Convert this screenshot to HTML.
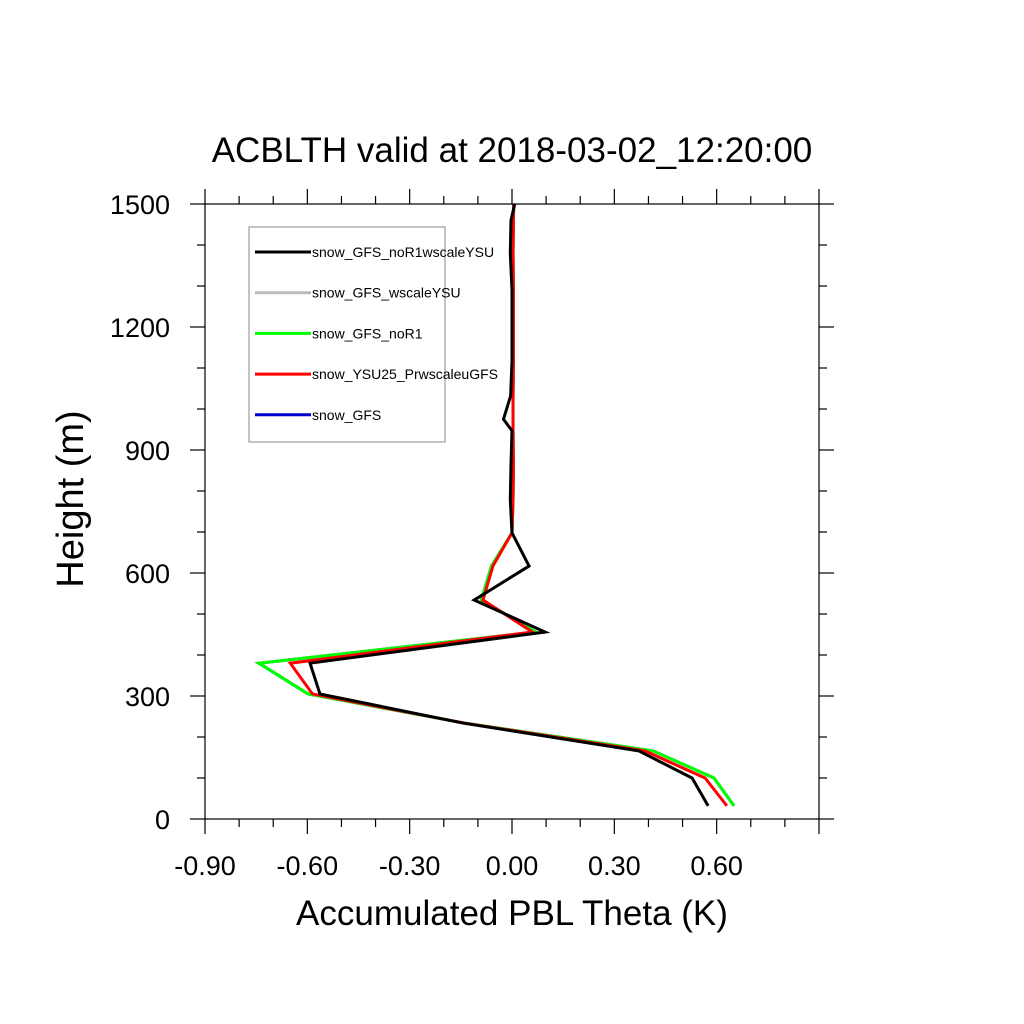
<!DOCTYPE html>
<html><head><meta charset="utf-8"><style>
body{margin:0;background:#fff}
svg{display:block;font-family:"Liberation Sans",sans-serif}
</style></head><body>
<svg id="chart" width="1024" height="1024" xmlns="http://www.w3.org/2000/svg">
<rect width="1024" height="1024" fill="#fff"/>
<text x="512" y="162" font-size="35" text-anchor="middle">ACBLTH valid at 2018-03-02_12:20:00</text>
<g id="ticks"></g>
<g id="series"></g>
<rect x="205" y="204" width="614" height="615" fill="none" stroke="#000" stroke-width="1.2"/>
<text x="512" y="925" font-size="35" text-anchor="middle">Accumulated PBL Theta (K)</text>
<text transform="translate(83,499) rotate(-90)" font-size="38" text-anchor="middle">Height (m)</text>
<g id="legend">
<rect x="249" y="227" width="196" height="215" fill="#fff" stroke="#888" stroke-width="1"/>
</g>
</svg>
<script>
const heights=[32,100,166,234,305,380,456,534,617,698,780,863,947,975,1032,1117,1204,1291,1379,1460,1500];
const blackVals=[0.575,0.528,0.372,-0.144,-0.563,-0.592,0.097,-0.111,0.050,0.0,-0.005,-0.003,0.0,-0.025,-0.004,0.0,0.0,0.0,-0.005,-0.003,0.008];
const redVals=[0.63,0.566,0.39,-0.14,-0.585,-0.65,0.06,-0.085,-0.056,0.0,0.003,0.004,0.003,0.003,0.003,0.004,0.004,0.004,0.003,0.004,0.005];
const greenVals=[0.651,0.592,0.414,-0.14,-0.598,-0.742,0.07,-0.09,-0.06,0.0,0.003,0.004,0.003,0.003,0.003,0.004,0.004,0.004,0.003,0.004,0.005];
const grayVals=[0.651,0.592,0.414,-0.14,-0.598,-0.742,0.07,-0.09,-0.06,0.0,0.003,0.004,0.003,0.003,0.003,0.004,0.004,0.004,0.003,0.004,0.005];
const blueVals=[0.651,0.592,0.414,-0.14,-0.598,-0.742,0.07,-0.09,-0.06,0.0,0.003,0.004,0.003,0.003,0.003,0.004,0.004,0.004,0.003,0.004,0.005];
const xTicks=[-0.9,-0.6,-0.3,0.0,0.3,0.6,0.9];
const xTickLabels=["-0.90","-0.60","-0.30","0.00","0.30","0.60",""];
const yTicks=[0,300,600,900,1200,1500];
const yTickLabels=["0","300","600","900","1200","1500"];
const seriesNames=["snow_GFS_noR1wscaleYSU","snow_GFS_wscaleYSU","snow_GFS_noR1","snow_YSU25_PrwscaleuGFS","snow_GFS"];
const seriesColors=["#000","#bbb","#0f0","#f00","#00c"];
const X0=205,X1=819,Y0=819,Y1=204;
const xs=v=>X0+(v+0.9)/1.8*(X1-X0);
const ys=v=>Y0-v/1500*(Y0-Y1);
const NS="http://www.w3.org/2000/svg";
const tg=document.getElementById('ticks');
function ln(g,x1,y1,x2,y2,name){const l=document.createElementNS(NS,'line');
l.setAttribute('x1',x1);l.setAttribute('y1',y1);l.setAttribute('x2',x2);l.setAttribute('y2',y2);
l.setAttribute('stroke','#000');l.setAttribute('stroke-width','1.2');


g.appendChild(l);}
for(let v=-0.9;v<=0.901;v+=0.1){const x=xs(v);const maj=Math.abs(Math.round(v*10)%3)===0;const L=maj?15:8;
ln(tg,x,Y0,x,Y0+L,'x-tick');ln(tg,x,Y1,x,Y1-L,'x-tick-top');}
for(let v=0;v<=1500;v+=100){const y=ys(v);const maj=v%300===0;const L=maj?15:8;
ln(tg,X0,y,X0-L,y,'y-tick');ln(tg,X1,y,X1+L,y,'y-tick-right');}
xTicks.forEach((v,i)=>{const t=document.createElementNS(NS,'text');t.setAttribute('x',xs(v));t.setAttribute('y',Y0+56);
t.setAttribute('font-size','27');t.setAttribute('text-anchor','middle');t.textContent=xTickLabels[i];


tg.appendChild(t);});
yTicks.forEach((v,i)=>{const t=document.createElementNS(NS,'text');t.setAttribute('x',X0-35);t.setAttribute('y',ys(v)+10);
t.setAttribute('font-size','27');t.setAttribute('text-anchor','end');t.textContent=yTickLabels[i];


tg.appendChild(t);});
const sg=document.getElementById('series');
const data=[[blueVals,'#00c','line-snow-gfs'],[grayVals,'#bbb','line-snow-gfs-wscaleysu'],[greenVals,'#0f0','line-snow-gfs-nor1'],[redVals,'#f00','line-snow-ysu25'],[blackVals,'#000','line-snow-gfs-nor1wscaleysu']];
data.forEach(d=>{const p=document.createElementNS(NS,'polyline');
p.setAttribute('points',d[0].map((v,i)=>xs(v)+','+ys(heights[i])).join(' '));
p.setAttribute('fill','none');p.setAttribute('stroke',d[1]);p.setAttribute('stroke-width','3');p.setAttribute('stroke-linejoin','miter');


sg.appendChild(p);});
const lg=document.getElementById('legend');
seriesNames.forEach((n,i)=>{const y=252+i*40.7;
const l=document.createElementNS(NS,'line');l.setAttribute('x1',255);l.setAttribute('x2',311);l.setAttribute('y1',y);l.setAttribute('y2',y);
l.setAttribute('stroke',seriesColors[i]);l.setAttribute('stroke-width','3');


lg.appendChild(l);
const t=document.createElementNS(NS,'text');t.setAttribute('x',312);t.setAttribute('y',y+5);t.setAttribute('font-size','14');t.textContent=n;


lg.appendChild(t);});
</script>
</body></html>
